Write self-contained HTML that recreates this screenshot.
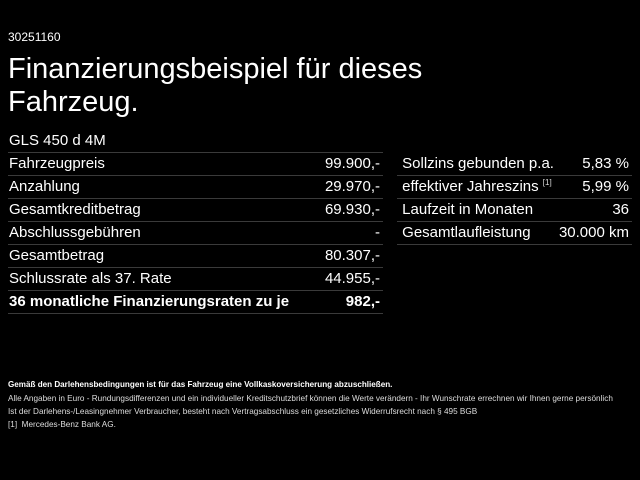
<!DOCTYPE html>
<html><head><meta charset="utf-8"><style>
body{margin:0;width:640px;height:480px;background:#000;color:#fff;font-family:"Liberation Sans",Arial,sans-serif;position:relative;overflow:hidden}
.a{position:absolute;white-space:nowrap}
.row{position:absolute;height:22px;border-bottom:1.5px solid #3a3a3a;font-size:15px;line-height:22px;padding-left:1px;box-sizing:content-box}
.row span{position:absolute;right:3px;top:0}
.s{font-size:8px;color:#ddd;line-height:0;vertical-align:6px}
</style></head><body>
<div class="a" style="left:8px;top:30px;font-size:12px">30251160</div>
<div class="a" style="left:8px;top:53px;font-size:29px;line-height:33px">Finanzierungsbeispiel für dieses<br>Fahrzeug.</div>
<div class="row" style="left:8px;top:130px;width:374px">GLS 450 d 4M</div>
<div class="row" style="left:8px;top:153px;width:374px">Fahrzeugpreis<span>99.900,-</span></div>
<div class="row" style="left:8px;top:176px;width:374px">Anzahlung<span>29.970,-</span></div>
<div class="row" style="left:8px;top:199px;width:374px">Gesamtkreditbetrag<span>69.930,-</span></div>
<div class="row" style="left:8px;top:222px;width:374px">Abschlussgebühren<span>-</span></div>
<div class="row" style="left:8px;top:245px;width:374px">Gesamtbetrag<span>80.307,-</span></div>
<div class="row" style="left:8px;top:268px;width:374px">Schlussrate als 37. Rate<span>44.955,-</span></div>
<div class="row" style="left:8px;top:291px;width:374px;font-weight:bold">36 monatliche Finanzierungsraten zu je<span>982,-</span></div>
<div class="row" style="left:397px;top:153px;width:234px">&nbsp;Sollzins gebunden p.a.<span>5,83 %</span></div>
<div class="row" style="left:397px;top:176px;width:234px">&nbsp;effektiver Jahreszins <sup class="s">[1]</sup><span>5,99 %</span></div>
<div class="row" style="left:397px;top:199px;width:234px">&nbsp;Laufzeit in Monaten<span>36</span></div>
<div class="row" style="left:397px;top:222px;width:234px">&nbsp;Gesamtlaufleistung<span>30.000 km</span></div>
<div class="a" style="left:8px;top:380px;font-size:8.1px;font-weight:bold">Gemäß den Darlehensbedingungen ist für das Fahrzeug eine Vollkaskoversicherung abzuschließen.</div>
<div class="a" style="left:8px;top:392px;font-size:8.2px;color:#ddd;line-height:13px">Alle Angaben in Euro - Rundungsdifferenzen und ein individueller Kreditschutzbrief können die Werte verändern - Ihr Wunschrate errechnen wir Ihnen gerne persönlich<br>Ist der Darlehens-/Leasingnehmer Verbraucher, besteht nach Vertragsabschluss ein gesetzliches Widerrufsrecht nach § 495 BGB</div>
<div class="a" style="left:8px;top:420px;font-size:8.2px;color:#ddd">[1]&nbsp; Mercedes-Benz Bank AG.</div>
</body></html>
